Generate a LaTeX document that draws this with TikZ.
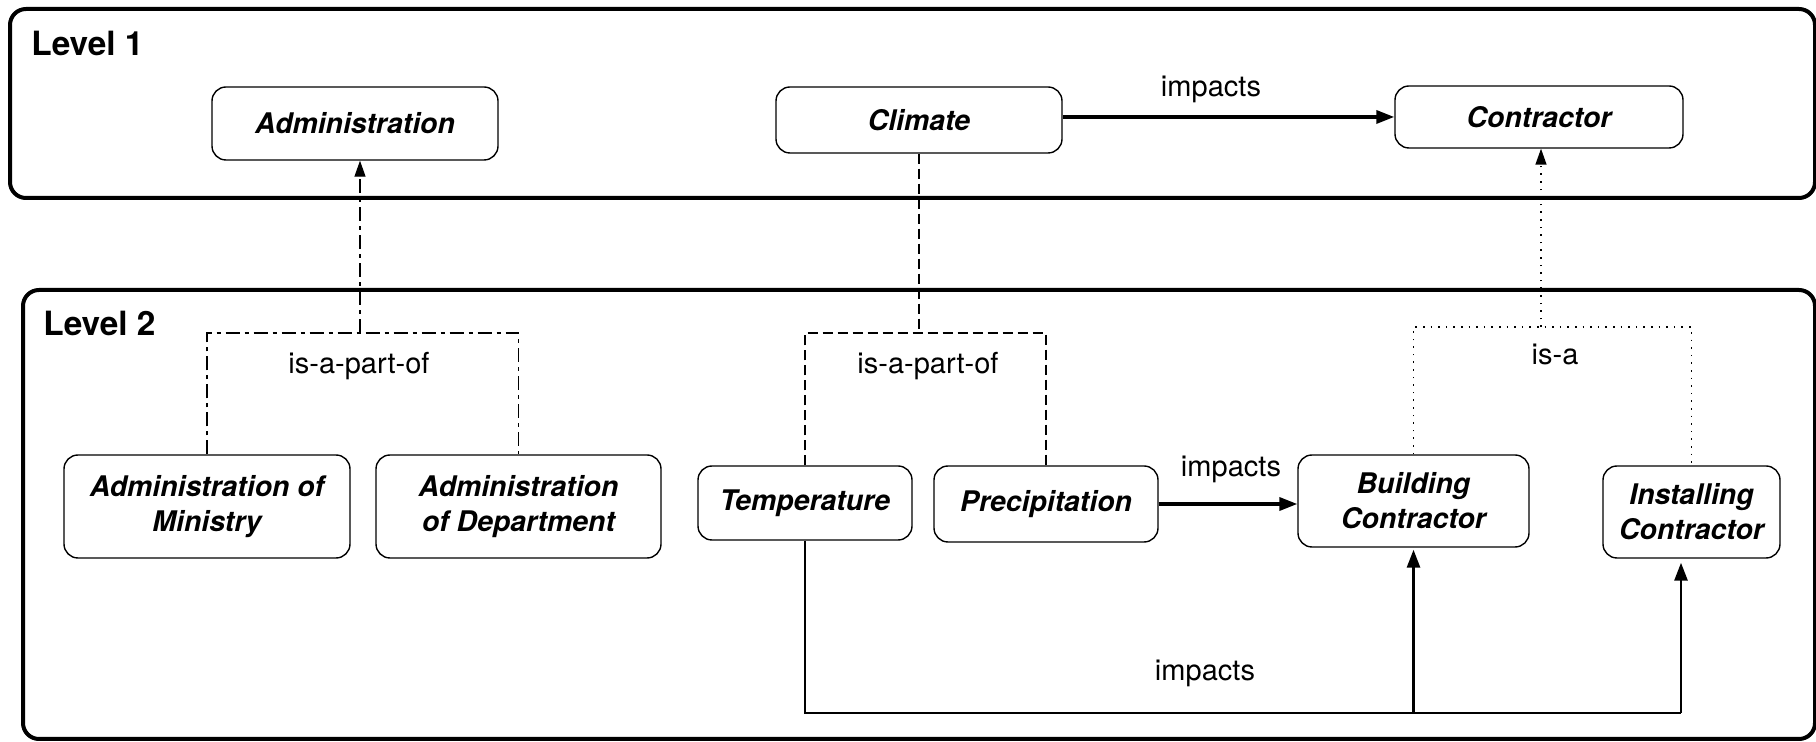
\documentclass[tikz,border=0pt]{standalone}
\usepackage{fontspec}
\setmainfont{TeX Gyre Heros}
\usetikzlibrary{arrows.meta}
\begin{document}
\begin{tikzpicture}[x=0.5pt,y=-0.5pt,
  levelbox/.style={draw, line width=2pt, rounded corners=8pt},
  entity/.style={draw, line width=0.7pt, rounded corners=7pt, align=center, inner sep=0pt,
    font=\fontsize{14.2}{17.4}\selectfont\bfseries\itshape},
  lvl/.style={anchor=west, inner sep=0pt, font=\fontsize{16.7}{20}\selectfont\bfseries},
  lbl/.style={inner sep=0pt, font=\fontsize{14.5}{17}\selectfont},
  tip/.style={-{Triangle[length=9pt,width=6.5pt]}},
  smalltip/.style={-{Triangle[length=8pt,width=5.5pt]}},
  partof/.style={line width=0.6pt, dash pattern=on 7pt off 2.5pt on 2pt off 2.5pt},
  dashline/.style={line width=0.6pt, dash pattern=on 5pt off 2.5pt},
  isaline/.style={line width=0.7pt, dash pattern=on 0.8pt off 3pt},
  impact/.style={line width=1.7pt},
  impactlow/.style={line width=1.4pt}
]
\useasboundingbox (0,0) rectangle (1816,742);

% level frames
\draw[levelbox] (10,9) rectangle (1815,198);
\draw[levelbox] (23,290) rectangle (1815,739);
\node[lvl] (l1) at (31,43) {Level 1};
\node[lvl] (l2) at (43,323) {Level 2};

% level 1 entities
\node[entity, minimum width=143pt, minimum height=36.5pt] (adm) at (355,123.5) {Administration};
\node[entity, minimum width=143pt, minimum height=33pt] (clim) at (919,120) {Climate};
\node[entity, minimum width=144pt, minimum height=31pt] (con) at (1539,117) {Contractor};

% level 2 entities
\node[entity, minimum width=143pt, minimum height=51.5pt] (min) at (207,506.5) {Administration of\\Ministry};
\node[entity, minimum width=142.5pt, minimum height=51.5pt] (dep) at (518.5,506.5) {Administration\\of Department};
\node[entity, minimum width=107pt, minimum height=37pt] (temp) at (805,503) {Temperature};
\node[entity, minimum width=112pt, minimum height=38pt] (prec) at (1046,504) {Precipitation};
\node[entity, minimum width=115.5pt, minimum height=46pt] (bld) at (1413.5,501) {Building\\Contractor};
\node[entity, minimum width=88.5pt, minimum height=46pt] (ins) at (1691.5,512) {Installing\\Contractor};

% administration tree (is-a-part-of)
\coordinate (aj) at (360,333);
\draw[partof] (min.north) -- (min.north |- aj) -- (dep.north |- aj) -- (dep.north);
\draw[partof, smalltip] (aj) -- (aj |- adm.south);
\node[lbl] (lpa) at (359,366) {is-a-part-of};

% climate tree (is-a-part-of)
\coordinate (cj) at (918,333);
\draw[dashline] (temp.north) -- (temp.north |- cj) -- (prec.north |- cj) -- (prec.north);
\draw[dashline] (clim.south) -- (clim.south |- cj);
\node[lbl] (lpb) at (928,366) {is-a-part-of};

% contractor tree (is-a)
\coordinate (kj) at (1541,327);
\draw[isaline] (bld.north) -- (bld.north |- kj) -- (ins.north |- kj) -- (ins.north);
\draw[isaline, smalltip] (kj) -- (kj |- con.south);
\node[lbl] (lisa) at (1555,354) {is-a};

% impacts: climate -> contractor
\draw[impact, tip] (clim.east |- con.west) -- (con.west);
\node[lbl] (li1) at (1211,89) {impacts};

% impacts: precipitation -> building contractor
\draw[impact, tip] (prec.east) -- (bld.west |- prec.east);
\node[lbl] (li2) at (1231,469) {impacts};

% impacts: temperature -> building / installing contractor
\coordinate (ib) at (1681,713);
\draw[impactlow] (temp.south) |- (ib);
\draw[impactlow, tip, shorten >=2pt] (ib) -- (ib |- ins.south);
\draw[impactlow, tip, shorten >=1pt] (bld.south |- ib) -- (bld.south);
\node[lbl] (li3) at (1205,673) {impacts};
\end{tikzpicture}
\end{document}
